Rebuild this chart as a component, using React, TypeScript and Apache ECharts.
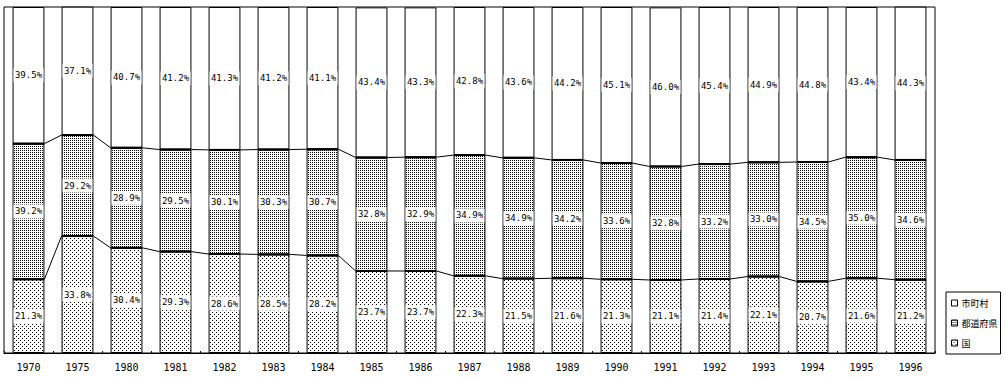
import React, { useEffect, useRef } from "react";
import * as echarts from "echarts";

const categories = ["1970", "1975", "1980", "1981", "1982", "1983", "1984", "1985", "1986", "1987", "1988", "1989", "1990", "1991", "1992", "1993", "1994", "1995", "1996"];
const kuni = [21.3, 33.8, 30.4, 29.3, 28.6, 28.5, 28.2, 23.7, 23.7, 22.3, 21.5, 21.6, 21.3, 21.1, 21.4, 22.1, 20.7, 21.6, 21.2];
const todofuken = [39.2, 29.2, 28.9, 29.5, 30.1, 30.3, 30.7, 32.8, 32.9, 34.9, 34.9, 34.2, 33.6, 32.8, 33.2, 33.0, 34.5, 35.0, 34.6];
const shichoson = [39.5, 37.1, 40.7, 41.2, 41.3, 41.2, 41.1, 43.4, 43.3, 42.8, 43.6, 44.2, 45.1, 46.0, 45.4, 44.9, 44.8, 43.4, 44.3];

function makePattern(size: number, dots: [number, number][]) {
  const c = document.createElement("canvas");
  c.width = size;
  c.height = size;
  const ctx = c.getContext("2d")!;
  ctx.fillStyle = "#fff";
  ctx.fillRect(0, 0, size, size);
  ctx.fillStyle = "#000";
  dots.forEach(([x, y]) => ctx.fillRect(x, y, 1, 1));
  return { image: c, repeat: "repeat" } as any;
}

export default function App() {
  const ref = useRef<HTMLDivElement>(null);
  useEffect(() => {
    document.body.style.margin = "0";
    const chart = echarts.init(ref.current!, null, { renderer: "svg" });
    const sparse = makePattern(4, [[0, 0], [2, 2]]);
    const dense = makePattern(2, [[0, 0]]);
    const n = categories.length;
    const cum1 = kuni.map((v) => v);
    const cum2 = kuni.map((v, i) => v + todofuken[i]);
    const lineData = categories.map((_, i) => [
      i,
      cum1[i],
      cum2[i],
      i < n - 1 ? cum1[i + 1] : cum1[i],
      i < n - 1 ? cum2[i + 1] : cum2[i],
    ]);
    const barRatio = 0.65;
    const label = {
      show: true,
      position: "inside",
      formatter: (p: any) => Number(p.value).toFixed(1) + "%",
      fontSize: 9,
      fontFamily: "DejaVu Sans Mono",
      color: "#000",
      backgroundColor: "#fff",
      width: 30,
      height: 14,
      lineHeight: 14,
      align: "center",
    };
    const barCommon = {
      type: "bar",
      stack: "total",
      barCategoryGap: "35%",
      label,
      emphasis: { disabled: true },
    };
    chart.setOption({
      animation: false,
      grid: { left: 4, right: 71, top: 7, bottom: 24, show: true, borderColor: "#000", borderWidth: 1, backgroundColor: "transparent" },
      legend: {
        data: ["市町村", "都道府県", "国"],
        orient: "vertical",
        left: 946,
        top: 292,
        borderColor: "#000",
        borderWidth: 1,
        padding: [5, 3, 5, 5],
        itemGap: 8,
        itemWidth: 6,
        itemHeight: 6,
        icon: "rect",
        itemStyle: { borderWidth: 1, borderColor: "#000" },
        textStyle: { fontSize: 9, lineHeight: 12, color: "#000", fontFamily: "Noto Sans CJK JP", padding: [0, 0, 0, -1] },
        selectedMode: false,
      },
      xAxis: {
        type: "category",
        data: categories,
        axisLine: { lineStyle: { color: "#000", width: 1 } },
        axisTick: { show: true, inside: true, length: 2, lineStyle: { color: "#000" } },
        axisLabel: { fontSize: 10, fontFamily: "DejaVu Sans Mono", color: "#000", margin: 9 },
      },
      yAxis: { type: "value", min: 0, max: 100, show: false, splitLine: { show: false } },
      series: [
        { ...barCommon, name: "国", data: kuni, itemStyle: { color: sparse, borderColor: "#000", borderWidth: 1 } },
        { ...barCommon, name: "都道府県", data: todofuken, itemStyle: { color: dense, borderColor: "#000", borderWidth: 1 } },
        { ...barCommon, name: "市町村", data: shichoson, itemStyle: { color: "#fff", borderColor: "#000", borderWidth: 1 } },
        {
          type: "custom",
          name: "connectors",
          silent: true,
          z: 5,
          clip: false,
          encode: { x: 0, y: 1 },
          data: lineData,
          renderItem: (params: any, api: any) => {
            const i = api.value(0);
            const band = api.size([1, 0])[0];
            const half = (band * barRatio) / 2;
            const children: any[] = [];
            [1, 2].forEach((dim) => {
              const p = api.coord([i, api.value(dim)]);
              children.push({
                type: "line",
                shape: { x1: p[0] - half, y1: p[1], x2: p[0] + half, y2: p[1] },
                style: { stroke: "#000", lineWidth: 2 },
              });
              if (i < n - 1) {
                const q = api.coord([i + 1, api.value(dim + 2)]);
                children.push({
                  type: "line",
                  shape: { x1: p[0] + half, y1: p[1], x2: q[0] - half, y2: q[1] },
                  style: { stroke: "#000", lineWidth: 1 },
                });
              }
            });
            return { type: "group", children };
          },
        },
      ],
    } as any);
    return () => chart.dispose();
  }, []);
  return <div ref={ref} style={{ width: 1006, height: 377 }} />;
}
